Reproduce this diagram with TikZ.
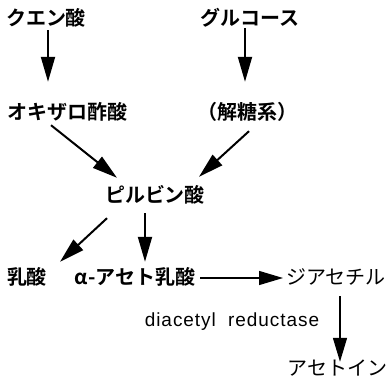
\documentclass[tikz,border=0pt]{standalone}
\usepackage{fontspec}
\setmainfont{Liberation Sans}
\newfontfamily\jpb{Noto Sans CJK JP Bold}
\newfontfamily\jpr{Noto Sans CJK JP}
\usetikzlibrary{arrows.meta}
\tikzset{
  lbl/.style={inner sep=0pt, text height=16pt, text depth=2pt, font=\jpb\fontsize{20}{22}\selectfont},
  lblr/.style={lbl, font=\jpr\fontsize{20}{22}\selectfont},
  arr/.style={line width=2pt, -{Triangle[length=25pt,width=14pt]}},
  harr/.style={line width=1.4pt, -{Triangle[length=24pt,width=14pt]}}
}
\begin{document}
\begin{tikzpicture}[x=1pt,y=-1pt]
\useasboundingbox (0,0) rectangle (389,379);
\node[lbl] (kuen) at (46,19) {クエン酸};
\node[lbl] (gluc) at (250,19) {グルコース};
\node[lbl] (oki) at (68,113) {オキザロ酢酸};
\node[lbl] (kaito) at (247,113) {（解糖系）};
\node[lbl] (pyr) at (155,196) {ピルビン酸};
\node[lbl] (nyu) at (27,278) {乳酸};
\node[lbl] (acl) at (135,278) {α-アセト乳酸};
\node[lblr] (jia) at (336,278) {ジアセチル};
\node[inner sep=0pt, font=\addfontfeature{LetterSpace=5}\fontsize{19}{22}\selectfont] (red) at (232,322) {diacetyl\hspace{6pt} reductase};
\node[lblr] (ace) at (337.5,369) {アセトイン};
\draw[arr] ([xshift=2pt,yshift=-2pt]kuen.south) -- ([xshift=-20pt,yshift=22pt]oki.north);
\draw[arr] ([xshift=-5pt,yshift=0pt]gluc.south) -- ([xshift=-2pt,yshift=22pt]kaito.north);
\draw[arr] ([xshift=-17pt,yshift=-3pt]oki.south) -- ([xshift=-38pt,yshift=9pt]pyr.north);
\draw[arr] ([xshift=2pt,yshift=-9pt]kaito.south) -- ([xshift=44pt,yshift=10pt]pyr.north);
\draw[arr] ([xshift=-48pt,yshift=-13pt]pyr.south) -- ([xshift=33pt,yshift=7pt]nyu.north);
\draw[arr] ([xshift=-10pt,yshift=-8pt]pyr.south) -- ([xshift=10pt,yshift=7pt]acl.north);
\draw[harr] ([xshift=5pt]acl.east) -- ([xshift=-3pt]jia.west);
\draw[harr] ([xshift=4pt,yshift=-9pt]jia.south) -- ([xshift=2.5pt,yshift=-2pt]ace.north);
\end{tikzpicture}
\end{document}
